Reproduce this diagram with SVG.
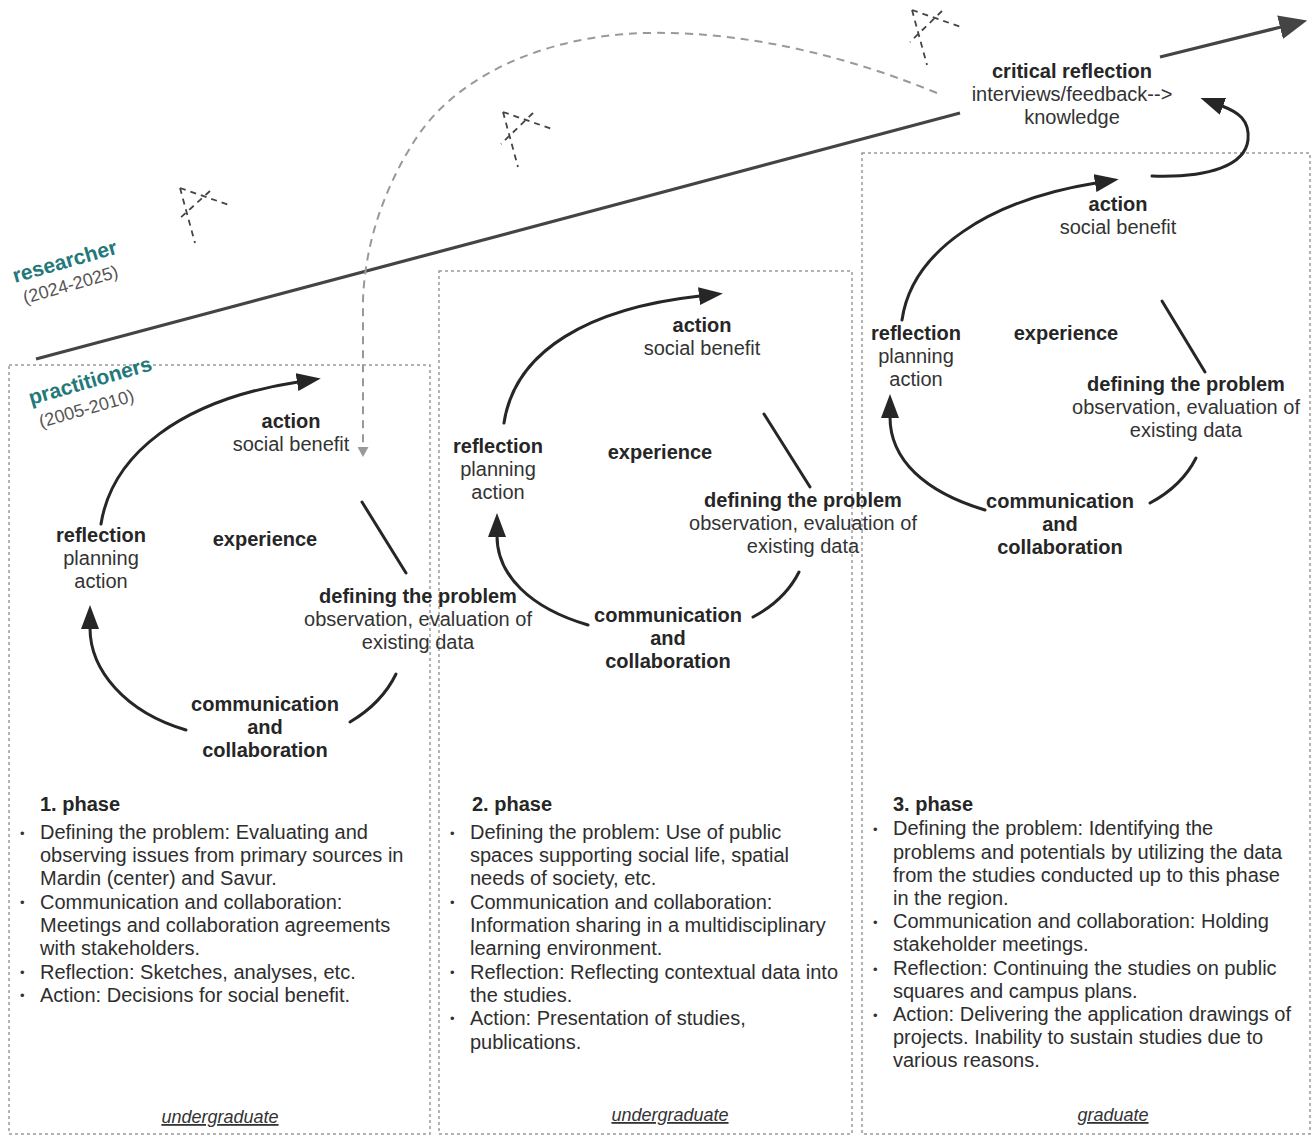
<svg xmlns="http://www.w3.org/2000/svg" width="1312" height="1136" viewBox="0 0 1312 1136">
<style>
text{font-family:"Liberation Sans",Arial,sans-serif;fill:#2e2e2e}
.b{font-weight:bold;font-size:20px;text-anchor:middle;fill:#262626}
.r{font-size:20px;text-anchor:middle;fill:#333}
.t{font-size:20px;fill:#2e2e2e}
.h{font-size:20px;font-weight:bold;fill:#262626}
.bul{font-size:13px;fill:#333}
.u{font-size:18px;font-style:italic;text-decoration:underline;text-anchor:middle;fill:#333}
.teal{font-weight:bold;font-size:21px;fill:#23787a}
.yr{font-size:18px;fill:#555}
.box{fill:none;stroke:#9a9a9a;stroke-width:1.5;stroke-dasharray:3 3}
.cyc{fill:none;stroke:#262626;stroke-width:3;stroke-linecap:round}
.sk{fill:none;stroke:#444;stroke-width:1.8;stroke-dasharray:6 5}
</style>
<defs>
<marker id="ah" markerUnits="userSpaceOnUse" markerWidth="24" markerHeight="18" viewBox="0 0 24 18" refX="1" refY="9" orient="auto"><path d="M0 0 L24 9 L0 18 z" fill="#262626"/></marker>
<marker id="big" markerUnits="userSpaceOnUse" markerWidth="28" markerHeight="24" viewBox="0 0 28 24" refX="1" refY="12" orient="auto"><path d="M0 0 L28 12 L0 24 z" fill="#444"/></marker>
<marker id="gah" markerUnits="userSpaceOnUse" markerWidth="10" markerHeight="11" viewBox="0 0 10 11" refX="1" refY="5.5" orient="auto"><path d="M0 0 L10 5.5 L0 11 z" fill="#999"/></marker>
</defs>

<g id="boxes">
<rect id="box1" class="box" x="9" y="365" width="421" height="769"/>
<rect id="box2" class="box" x="439" y="271" width="413" height="863"/>
<rect id="box3" class="box" x="862" y="153" width="448" height="981"/>
</g>

<g id="sketches">
<g id="sketch1"><path class="sk" d="M180 188 L232 206 M180 188 L195 243 M210 191 L178 220"/></g>
<g id="sketch2"><path class="sk" d="M503 112 L555 130 M503 112 L518 167 M533 113 L501 144"/></g>
<g id="sketch3"><path class="sk" d="M912 10 L964 28 M912 10 L927 65 M942 11 L910 42"/></g>
</g>

<g id="connectors">
<path id="researcher-line-a" d="M36 359 L960 113" fill="none" stroke="#444" stroke-width="3.2"/>
<path id="researcher-line-b" d="M1160 57 L1281 27" fill="none" stroke="#444" stroke-width="3.2" marker-end="url(#big)"/>
<path id="feedback-dashed" d="M937 93 C820 45 710 28 625 34 C525 42 450 85 415 140 C383 190 365 245 363 300 L363 448" fill="none" stroke="#999" stroke-width="2" stroke-dasharray="8 6" marker-end="url(#gah)"/>

<path class="cyc" d="M101 524 C112 455 180 400 298 382" marker-end="url(#ah)"/>
<path class="cyc" d="M362 502 L406 573"/>
<path class="cyc" d="M396 674 Q382 703 350 722"/>
<path class="cyc" d="M186 730 C125 712 90 670 90 628" marker-end="url(#ah)"/>

<path class="cyc" d="M504 423 C515 350 590 308 700 296" marker-end="url(#ah)"/>
<path class="cyc" d="M764 414 L810 487"/>
<path class="cyc" d="M799 572 Q785 600 753 617"/>
<path class="cyc" d="M588 625 C530 608 497 575 497 536" marker-end="url(#ah)"/>

<path class="cyc" d="M902 320 C912 250 990 200 1096 183" marker-end="url(#ah)"/>
<path class="cyc" d="M1162 301 L1205 372"/>
<path class="cyc" d="M1196 458 Q1182 486 1150 503"/>
<path class="cyc" d="M985 510 C925 492 890 460 890 417" marker-end="url(#ah)"/>
<path class="cyc" d="M1152 176 C1210 178 1245 165 1248 140 C1250 120 1238 112 1222 106" marker-end="url(#ah)"/>
</g>

<g id="roles">
<g id="researcher"><text class="teal" transform="translate(15 283) rotate(-16)">researcher</text>
<text class="yr" transform="translate(25 304) rotate(-16)">(2024-2025)</text></g>
<g id="practitioners"><text class="teal" transform="translate(31 405) rotate(-16)">practitioners</text>
<text class="yr" transform="translate(41 428) rotate(-16)">(2005-2010)</text></g>
</g>

<g id="critical-reflection">
<text class="b" x="1072" y="78">critical reflection</text>
<text class="r" x="1072" y="101">interviews/feedback--&gt;</text>
<text class="r" x="1072" y="124">knowledge</text>
</g>

<g id="cycle1">
<g id="c1-action"><text class="b" x="291" y="428">action</text><text class="r" x="291" y="451">social benefit</text></g>
<g id="c1-reflection"><text class="b" x="101" y="542">reflection</text><text class="r" x="101" y="565">planning</text><text class="r" x="101" y="588">action</text></g>
<g id="c1-experience"><text class="b" x="265" y="546">experience</text></g>
<g id="c1-defining"><text class="b" x="418" y="603">defining the problem</text><text class="r" x="418" y="626">observation, evaluation of</text><text class="r" x="418" y="649">existing data</text></g>
<g id="c1-communication"><text class="b" x="265" y="711">communication</text><text class="b" x="265" y="734">and</text><text class="b" x="265" y="757">collaboration</text></g>
</g>

<g id="cycle2">
<g id="c2-action"><text class="b" x="702" y="332">action</text><text class="r" x="702" y="355">social benefit</text></g>
<g id="c2-reflection"><text class="b" x="498" y="453">reflection</text><text class="r" x="498" y="476">planning</text><text class="r" x="498" y="499">action</text></g>
<g id="c2-experience"><text class="b" x="660" y="459">experience</text></g>
<g id="c2-defining"><text class="b" x="803" y="507">defining the problem</text><text class="r" x="803" y="530">observation, evaluation of</text><text class="r" x="803" y="553">existing data</text></g>
<g id="c2-communication"><text class="b" x="668" y="622">communication</text><text class="b" x="668" y="645">and</text><text class="b" x="668" y="668">collaboration</text></g>
</g>

<g id="cycle3">
<g id="c3-action"><text class="b" x="1118" y="211">action</text><text class="r" x="1118" y="234">social benefit</text></g>
<g id="c3-reflection"><text class="b" x="916" y="340">reflection</text><text class="r" x="916" y="363">planning</text><text class="r" x="916" y="386">action</text></g>
<g id="c3-experience"><text class="b" x="1066" y="340">experience</text></g>
<g id="c3-defining"><text class="b" x="1186" y="391">defining the problem</text><text class="r" x="1186" y="414">observation, evaluation of</text><text class="r" x="1186" y="437">existing data</text></g>
<g id="c3-communication"><text class="b" x="1060" y="508">communication</text><text class="b" x="1060" y="531">and</text><text class="b" x="1060" y="554">collaboration</text></g>
</g>

<g id="phase1">
<text class="h" x="40" y="811">1. phase</text>
<text class="bul" x="20" y="838">•</text><text class="bul" x="20" y="907">•</text><text class="bul" x="20" y="977">•</text><text class="bul" x="20" y="1000">•</text>
<text class="t" x="40" y="839">Defining the problem: Evaluating and</text>
<text class="t" x="40" y="862">observing issues from primary sources in</text>
<text class="t" x="40" y="885">Mardin (center) and Savur.</text>
<text class="t" x="40" y="909">Communication and collaboration:</text>
<text class="t" x="40" y="932">Meetings and collaboration agreements</text>
<text class="t" x="40" y="955">with stakeholders.</text>
<text class="t" x="40" y="979">Reflection: Sketches, analyses, etc.</text>
<text class="t" x="40" y="1002">Action: Decisions for social benefit.</text>
<text class="u" x="220" y="1123">undergraduate</text>
</g>

<g id="phase2">
<text class="h" x="472" y="811">2. phase</text>
<text class="bul" x="450" y="838">•</text><text class="bul" x="450" y="907">•</text><text class="bul" x="450" y="977">•</text><text class="bul" x="450" y="1023">•</text>
<text class="t" x="470" y="839">Defining the problem: Use of public</text>
<text class="t" x="470" y="862">spaces supporting social life, spatial</text>
<text class="t" x="470" y="885">needs of society, etc.</text>
<text class="t" x="470" y="909">Communication and collaboration:</text>
<text class="t" x="470" y="932">Information sharing in a multidisciplinary</text>
<text class="t" x="470" y="955">learning environment.</text>
<text class="t" x="470" y="979">Reflection: Reflecting contextual data into</text>
<text class="t" x="470" y="1002">the studies.</text>
<text class="t" x="470" y="1025">Action: Presentation of studies,</text>
<text class="t" x="470" y="1049">publications.</text>
<text class="u" x="670" y="1121">undergraduate</text>
</g>

<g id="phase3">
<text class="h" x="893" y="811">3. phase</text>
<text class="bul" x="873" y="834">•</text><text class="bul" x="873" y="927">•</text><text class="bul" x="873" y="974">•</text><text class="bul" x="873" y="1020">•</text>
<text class="t" x="893" y="835">Defining the problem: Identifying the</text>
<text class="t" x="893" y="859">problems and potentials by utilizing the data</text>
<text class="t" x="893" y="882">from the studies conducted up to this phase</text>
<text class="t" x="893" y="905">in the region.</text>
<text class="t" x="893" y="928">Communication and collaboration: Holding</text>
<text class="t" x="893" y="951">stakeholder meetings.</text>
<text class="t" x="893" y="975">Reflection: Continuing the studies on public</text>
<text class="t" x="893" y="998">squares and campus plans.</text>
<text class="t" x="893" y="1021">Action: Delivering the application drawings of</text>
<text class="t" x="893" y="1044">projects. Inability to sustain studies due to</text>
<text class="t" x="893" y="1067">various reasons.</text>
<text class="u" x="1113" y="1121">graduate</text>
</g>
</svg>
